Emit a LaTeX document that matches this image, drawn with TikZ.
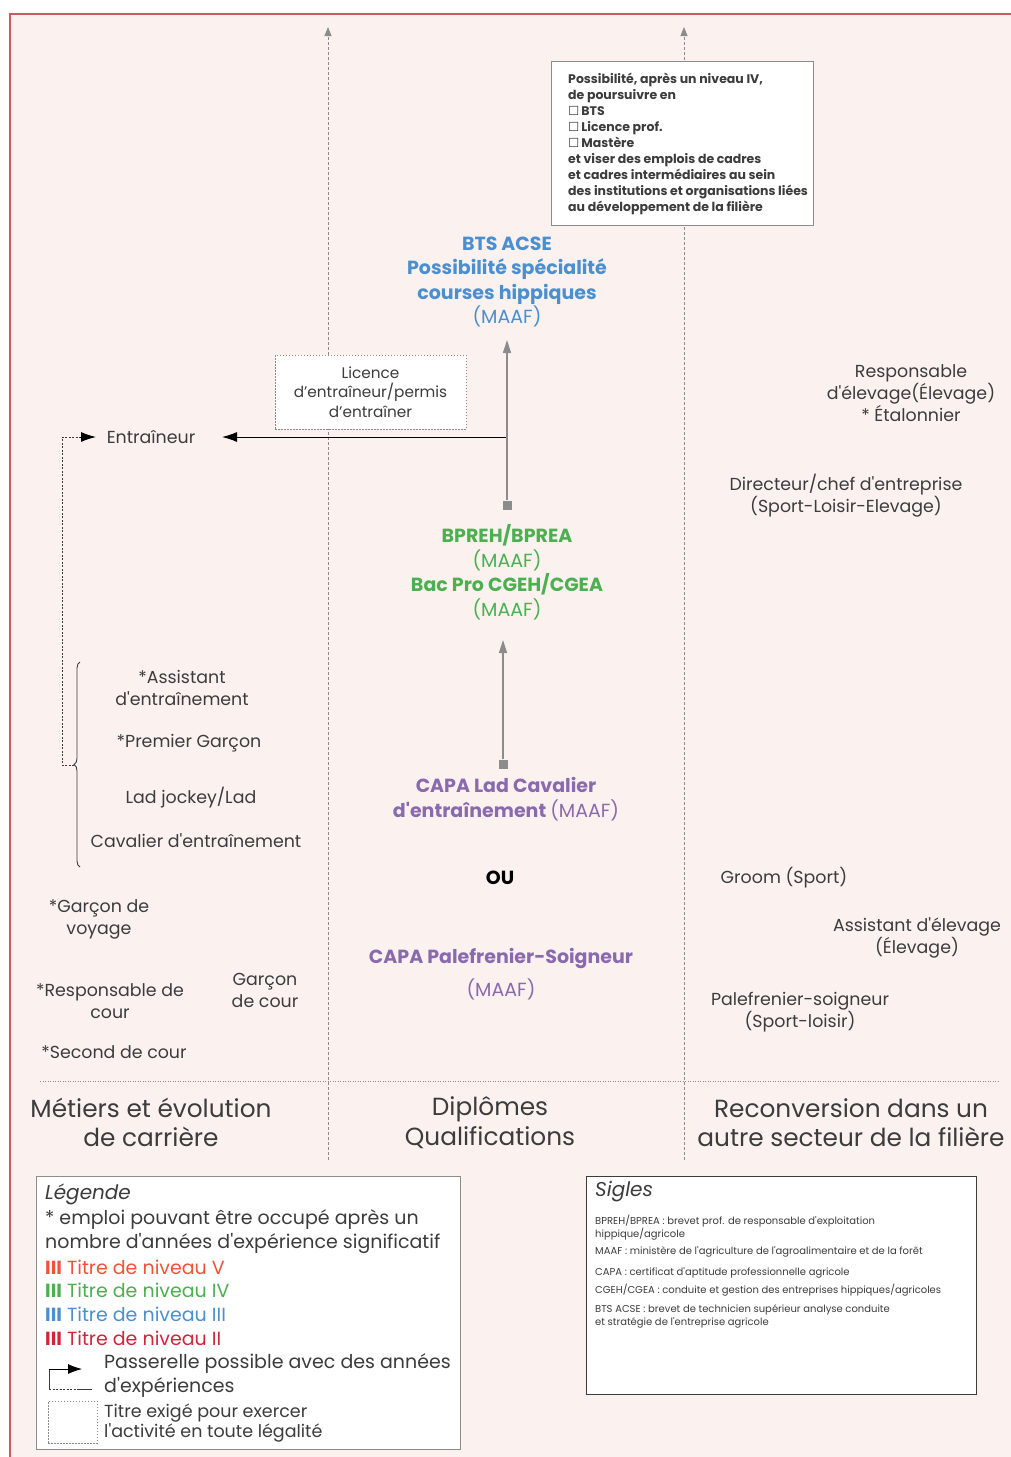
\documentclass[tikz,border=0pt]{standalone}
\usepackage{fontspec}
\setmainfont{Poppins}[Ligatures=TeXOff]
\newfontfamily\symfont{DejaVu Sans}
\usetikzlibrary{arrows.meta,decorations.pathreplacing}
\definecolor{bg}{HTML}{FBF2F0}
\definecolor{txt}{HTML}{3C3C3C}
\definecolor{cblue}{HTML}{4A8FD0}
\definecolor{cgreen}{HTML}{4CAF50}
\definecolor{cpurple}{HTML}{8A6AAE}
\definecolor{corange}{HTML}{F0533A}
\definecolor{cred}{HTML}{D0263A}
\definecolor{cborder}{HTML}{C85A60}
\definecolor{cline}{HTML}{8C8C8C}
\newcommand{\fs}[2]{\fontsize{#1}{#2}\selectfont}
\begin{document}
\begin{tikzpicture}[x=1pt,y=-1pt,
  lbl/.style={font=\fs{17.4}{22}, text=txt, align=center, inner sep=0pt},
  head/.style={font=\fs{24.8}{29.5}, text=txt, align=center, inner sep=0pt},
  dip/.style={font=\fs{19}{24.5}\bfseries, align=center, inner sep=0pt},
  guide/.style={draw=cline, line width=0.8pt, dash pattern=on 3pt off 2pt},
  flow/.style={draw=cline, line width=1.2pt},
  sqmark/.style={fill=cline, minimum size=9pt, inner sep=0pt},
  whitebox/.style={draw=cline, fill=white, line width=0.8pt},
  dotbox/.style={draw=cline, fill=white, line width=0.7pt, dash pattern=on 1.5pt off 1.5pt},
  leg/.style={font=\fs{19}{23.5}, text=txt, anchor=west, inner sep=0pt},
  sig/.style={font=\fs{10}{13}, text=txt, anchor=west, inner sep=0pt, align=left}
]
\useasboundingbox (0,0) rectangle (1011,1457);
\fill[white] (0,0) rectangle (1011,1457);
\fill[bg] (10,14) rectangle (1011,1457);
\draw[cborder, line width=2pt] (1011,14) -- (10,14) -- (10,1457);

% guides
\coordinate (g1b) at (328,1160); \coordinate (g1t) at (328,27);
\coordinate (g2b) at (684,1160); \coordinate (g2t) at (684,27);
\draw[guide, -{Triangle[length=9pt,width=7pt]}, cline] (g1b) -- (g1t);
\draw[guide, -{Triangle[length=9pt,width=7pt]}, cline] (g2b) -- (g2t);
\coordinate (hl1) at (40,1081); \coordinate (hl2) at (1000,1081);
\draw[cline, line width=0.8pt, dash pattern=on 1pt off 1.5pt] (hl1) -- (hl2);

% top box
\node[whitebox, anchor=north west, minimum width=262pt, minimum height=164pt] (topbox) at (551,61) {};
\node[anchor=north west, inner sep=0pt, align=left, font=\fs{12.5}{16}\bfseries, text=txt] (toptext) at (568,72.5)
{Possibilité, après un niveau IV,\\
de poursuivre en\\
{\symfont\mdseries ☐}\,BTS\\
{\symfont\mdseries ☐}\,Licence prof.\\
{\symfont\mdseries ☐}\,Mastère\\
et viser des emplois de cadres\\
et cadres intermédiaires au sein\\
des institutions et organisations liées\\
au développement de la filière};

% center column
\node[dip, text=cblue] (bts) at (507,282) {BTS ACSE\\Possibilité spécialité\\courses hippiques\\\mdseries(MAAF)};
\node[sqmark] (sq1) at (507,505) {};
\coordinate (t1) at (507,340);
\draw[flow, -{Triangle[length=13pt,width=8pt]}] (sq1) -- (t1);

\node[dip, text=cgreen] (bp) at (507,572) {BPREH/BPREA\\\mdseries(MAAF)\\Bac Pro CGEH/CGEA\\\mdseries(MAAF)};
\node[sqmark] (sq2) at (503,764) {};
\coordinate (t2) at (503,640);
\draw[flow, -{Triangle[length=13pt,width=8pt]}] (sq2) -- (t2);

\node[dip, text=cpurple] (capa1) at (506,799) {CAPA Lad Cavalier\\d'entraînement \mdseries(MAAF)};
\node[dip, text=black] (ou) at (500,878) {OU};
\node[dip, text=cpurple, font=\fs{19}{33}\bfseries] (capa2) at (501,974) {CAPA Palefrenier-Soigneur\\\mdseries(MAAF)};

% licence box and trainer arrow
\node[lbl] (entr) at (151,437) {Entraîneur};
\coordinate (h1) at (506,437);
\coordinate (h2) at (222,437);
\draw[draw=txt, line width=1pt, -{Latex[length=15pt,width=10pt]}, black] (h1) -- (h2);
\node[dotbox, minimum width=191pt, minimum height=74pt, font=\fs{15.3}{19.5}, text=txt, align=center] (lic) at (370.5,392) {Licence\\d’entraîneur/permis\\d’entraîner};

% left column
\node[lbl] (assist) at (182,688) {*Assistant\\d'entraînement};
\node[lbl] (premier) at (189,743) {*Premier Garçon};
\node[lbl] (ladj) at (191,798) {Lad jockey/Lad};
\node[lbl] (cavalier) at (196,841) {Cavalier d'entraînement};
\node[lbl] (voyage) at (99,919.5) {*Garçon de\\voyage};
\node[lbl] (respcour) at (110,1001.5) {*Responsable de\\cour};
\node[lbl] (gcour) at (265,990.5) {Garçon\\de cour};
\node[lbl] (second) at (114,1052) {*Second de cour};

\coordinate (bb) at (80,867); \coordinate (bt) at (80,662);
\draw[txt, line width=0.9pt, decorate, decoration={brace, amplitude=6pt}] (bb) -- (bt);
\coordinate (btip) at (74,765);
\coordinate (pc) at (62,765);
\coordinate (pa) at (96,437);
\draw[txt, line width=0.8pt, dash pattern=on 2pt off 1.5pt] (btip) -- (pc) |- ([xshift=-14pt]pa);
\draw[black, line width=1pt, -{Latex[length=15pt,width=10pt]}] ([xshift=-16pt]pa) -- (pa);

% right column
\node[lbl] (respel) at (911,393) {Responsable\\d'élevage(Élevage)\\* Étalonnier};
\node[lbl] (direct) at (846,495.5) {Directeur/chef d'entreprise\\(Sport-Loisir-Elevage)};
\node[lbl] (groom) at (784,878) {Groom (Sport)};
\node[lbl] (assel) at (917,937.5) {Assistant d'élevage\\(Élevage)};
\node[lbl] (palef) at (800,1012.5) {Palefrenier-soigneur\\(Sport-loisir)};

% headings
\node[head] (h1t) at (151,1122.5) {Métiers et évolution\\de carrière};
\node[head] (h2t) at (490,1122.5) {Diplômes\\Qualifications};
\node[head] (h3t) at (851,1122.5) {Reconversion dans un\\autre secteur de la filière};

% legend
\node[whitebox, anchor=north west, minimum width=424pt, minimum height=273pt] (legbox) at (36,1176) {};
\node[leg, font=\fs{20}{23}\itshape] (legt) at (45,1194) {Légende};
\node[leg] (leg1) at (45,1220) {* emploi pouvant être occupé après un};
\node[leg] (leg2) at (45,1243) {nombre d'années d'expérience significatif};
\node[leg, text=corange] (leg3) at (45,1267) {\textbf{III} Titre de niveau V};
\node[leg, text=cgreen] (leg4) at (45,1290) {\textbf{III} Titre de niveau IV};
\node[leg, text=cblue] (leg5) at (45,1314) {\textbf{III} Titre de niveau III};
\node[leg, text=cred] (leg6) at (45,1338) {\textbf{III} Titre de niveau II};
\coordinate (lp1) at (92,1389); \coordinate (lp2) at (49,1389); \coordinate (lp3) at (49,1369); \coordinate (lp4) at (82,1369);
\draw[txt, line width=0.8pt, dash pattern=on 2pt off 1.5pt] (lp2) -- ([xshift=-15pt]lp1);
\draw[txt, line width=0.8pt] ([xshift=-15pt]lp1) -- (lp1);
\draw[txt, line width=0.8pt] (lp2) -- (lp3);
\draw[black, line width=0.8pt, -{Latex[length=14pt,width=10pt]}] (lp3) -- (lp4);
\node[leg] (leg7) at (104,1364) {Passerelle possible avec des années};
\node[leg] (leg8) at (104,1387) {d'expériences};
\node[dotbox, anchor=north west, minimum width=49pt, minimum height=42pt] (legdot) at (48,1401) {};
\node[leg, font=\fs{17.5}{21}] (leg9) at (104,1413) {Titre exigé pour exercer};
\node[leg, font=\fs{17.5}{21}] (leg10) at (104,1433) {l'activité en toute légalité};

% sigles
\node[draw=txt, fill=white, line width=0.9pt, anchor=north west, minimum width=390pt, minimum height=218pt] (sigbox) at (586,1176) {};
\node[leg, font=\fs{20}{23}\itshape] (sigt) at (595,1192) {Sigles};
\node[sig] (s1) at (595,1227.5) {BPREH/BPREA : brevet prof. de responsable d'exploitation\\hippique/agricole};
\node[sig] (s2) at (595,1252) {MAAF : ministère de l'agriculture de l'agroalimentaire et de la forêt};
\node[sig] (s3) at (595,1273) {CAPA : certificat d'aptitude professionnelle agricole};
\node[sig] (s4) at (595,1290) {CGEH/CGEA : conduite et gestion des entreprises hippiques/agricoles};
\node[sig] (s5) at (595,1316.5) {BTS ACSE : brevet de technicien supérieur analyse conduite\\et stratégie de l'entreprise agricole};
\end{tikzpicture}
\end{document}
